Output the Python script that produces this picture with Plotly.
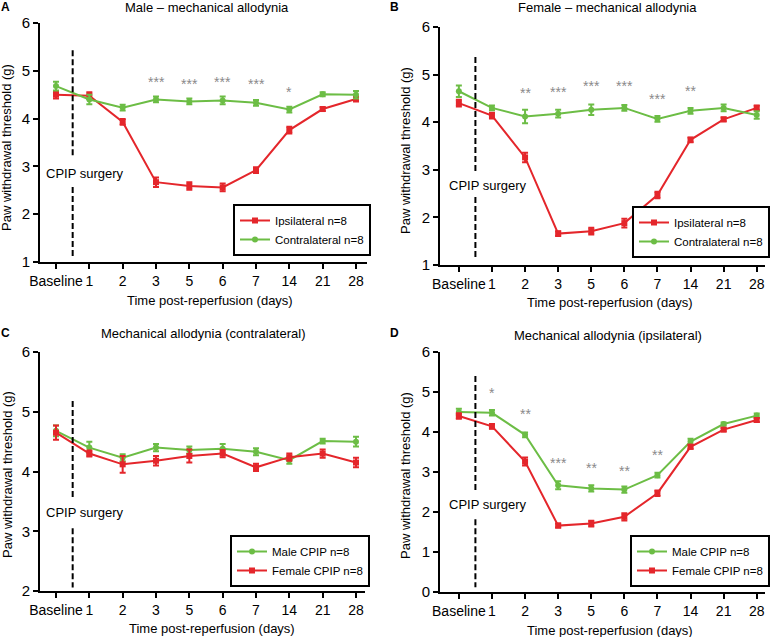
import plotly.graph_objects as go

# ---------------- data ----------------
days = ["Baseline", "1", "2", "3", "5", "6", "7", "14", "21", "28"]

male_ipsi = [4.50, 4.48, 3.93, 2.67, 2.59, 2.56, 2.92, 3.76, 4.20, 4.41]
male_ipsi_sem = [0.08, 0.07, 0.06, 0.10, 0.08, 0.08, 0.06, 0.07, 0.04, 0.05]
male_contra = [4.68, 4.40, 4.23, 4.40, 4.36, 4.38, 4.33, 4.19, 4.51, 4.50]
male_contra_sem = [0.09, 0.10, 0.06, 0.06, 0.06, 0.08, 0.06, 0.06, 0.04, 0.08]
female_ipsi = [4.40, 4.14, 3.26, 1.66, 1.71, 1.88, 2.47, 3.63, 4.06, 4.30]
female_ipsi_sem = [0.07, 0.06, 0.10, 0.05, 0.07, 0.09, 0.07, 0.05, 0.04, 0.05]
female_contra = [4.65, 4.30, 4.12, 4.18, 4.26, 4.30, 4.07, 4.24, 4.30, 4.15]
female_contra_sem = [0.12, 0.05, 0.14, 0.08, 0.11, 0.06, 0.06, 0.06, 0.07, 0.08]

sig_A_days = ["3", "5", "6", "7", "14"]
sig_A_text = ["***", "***", "***", "***", "*"]
sig_A_y = [4.83, 4.79, 4.83, 4.79, 4.62]

sig_B_days = ["2", "3", "5", "6", "7", "14"]
sig_B_text = ["**", "***", "***", "***", "***", "**"]
sig_B_y = [4.68, 4.70, 4.82, 4.82, 4.54, 4.72]

sig_D_days = ["1", "2", "3", "5", "6", "7"]
sig_D_text = ["*", "**", "***", "**", "**", "**"]
sig_D_y = [5.05, 4.53, 3.30, 3.18, 3.10, 3.49]

# ---------------- style ----------------
W, H = 777, 637
RED = "#e4262b"
GREEN = "#6cbd45"
FONT = "Liberation Sans, Arial, Helvetica, sans-serif"


def px(p):
    return p / W


def py(p):
    return 1 - p / H


fig = go.Figure()

panels = [
    dict(n="", label="A", title="Male – mechanical allodynia",
         xdom=(40, 367), ydom=(262, 23), xr=(-0.48, 9.33), yr=(1, 6),
         series=[("Ipsilateral n=8", male_ipsi, male_ipsi_sem, RED, "square"),
                 ("Contralateral n=8", male_contra, male_contra_sem, GREEN, "circle")],
         leg=(371, 256), ttl=(207, 8), lab=(5, 7), ytl=(7, 148), xtl=(210, 300),
         dash=[(5.43, 3.20), (2.57, 1.08)], cpip=2.86,
         sig=(sig_A_days, sig_A_text, sig_A_y)),
    dict(n="2", label="B", title="Female – mechanical allodynia",
         xdom=(440, 765), ydom=(265, 27), xr=(-0.57, 9.25), yr=(1, 6),
         series=[("Ipsilateral n=8", female_ipsi, female_ipsi_sem, RED, "square"),
                 ("Contralateral n=8", female_contra, female_contra_sem, GREEN, "circle")],
         leg=(770, 258), ttl=(607, 8), lab=(395, 7), ytl=(405, 150), xtl=(610, 302),
         dash=[(5.37, 2.95), (2.43, 1.15)], cpip=2.68,
         sig=(sig_B_days, sig_B_text, sig_B_y)),
    dict(n="3", label="C", title="Mechanical allodynia (contralateral)",
         xdom=(40, 365), ydom=(591, 352), xr=(-0.48, 9.27), yr=(2, 6),
         series=[("Male CPIP n=8", male_contra, male_contra_sem, GREEN, "circle"),
                 ("Female CPIP n=8", female_contra, female_contra_sem, RED, "square")],
         leg=(370, 587), ttl=(203, 333), lab=(5, 333), ytl=(7, 475), xtl=(212, 628),
         dash=[(5.18, 3.55), (3.05, 2.06)], cpip=3.32,
         sig=None),
    dict(n="4", label="D", title="Mechanical allodynia (ipsilateral)",
         xdom=(440, 765), ydom=(592, 352), xr=(-0.57, 9.25), yr=(0, 6),
         series=[("Male CPIP n=8", male_ipsi, male_ipsi_sem, GREEN, "circle"),
                 ("Female CPIP n=8", female_ipsi, female_ipsi_sem, RED, "square")],
         leg=(770, 587), ttl=(608, 335), lab=(395, 333), ytl=(405, 475), xtl=(610, 630),
         dash=[(5.40, 2.55), (1.82, 0.12)], cpip=2.20,
         sig=(sig_D_days, sig_D_text, sig_D_y)),
]

annotations = []
shapes = []
layout = {}


def paper_text(text, x, y, size=13, angle=0, color="black"):
    return dict(text=text, x=px(x), y=py(y), xref="paper", yref="paper",
                xanchor="center", yanchor="middle", showarrow=False, textangle=angle,
                font=dict(family=FONT, size=size, color=color))


for p in panels:
    n = p["n"]
    xa, ya = "x" + n, "y" + n
    legname = "legend" + n
    for name, vals, sem, col, sym in p["series"]:
        fig.add_trace(go.Scatter(
            x=days, y=vals, name=name, mode="lines+markers",
            xaxis=xa, yaxis=ya, legend=legname,
            line=dict(color=col, width=2),
            marker=dict(color=col, symbol=sym, size=6),
            error_y=dict(type="data", array=sem, visible=True,
                         color=col, thickness=2, width=3),
        ))
    ymin, ymax = p["yr"]
    layout["xaxis" + n] = dict(
        domain=[px(p["xdom"][0]), px(p["xdom"][1])], anchor=ya,
        type="category", categoryorder="array", categoryarray=days,
        range=list(p["xr"]), showline=True, linecolor="black", linewidth=2,
        ticks="outside", ticklen=5, tickwidth=2, tickcolor="black",
        showgrid=False, zeroline=False, fixedrange=True,
        tickangle=0, automargin=False,
        tickfont=dict(family=FONT, size=14, color="black"))
    layout["yaxis" + n] = dict(
        domain=[py(p["ydom"][0]), py(p["ydom"][1])], anchor=xa,
        range=[ymin, ymax], tickmode="array",
        tickvals=list(range(ymin, ymax + 1)),
        showline=True, linecolor="black", linewidth=2,
        ticks="outside", ticklen=5, tickwidth=2, tickcolor="black",
        showgrid=False, zeroline=False, fixedrange=True, automargin=False,
        tickfont=dict(family=FONT, size=15, color="black"))
    layout[legname] = dict(
        x=px(p["leg"][0]), y=py(p["leg"][1]), xanchor="right", yanchor="bottom",
        xref="paper", yref="paper",
        bordercolor="black", borderwidth=2, bgcolor="white",
        font=dict(family=FONT, size=11.5, color="black"),
        itemwidth=30, tracegroupgap=0, traceorder="normal")

    # titles / labels
    annotations.append(paper_text(p["title"], *p["ttl"]))
    annotations.append(paper_text("<b>" + p["label"] + "</b>", *p["lab"], size=12))
    annotations.append(paper_text("Paw withdrawal threshold (g)", *p["ytl"], angle=-90))
    annotations.append(paper_text("Time post-reperfusion (days)", *p["xtl"]))
    # surgery marker
    for y0, y1 in p["dash"]:
        shapes.append(dict(type="line", xref=xa, yref=ya, x0=0.5, x1=0.5, y0=y0, y1=y1,
                           line=dict(color="black", width=2, dash="6px,3px")))
    annotations.append(dict(text="CPIP surgery", x=-0.36, y=p["cpip"], xref=xa, yref=ya,
                            xanchor="left", yanchor="middle", showarrow=False,
                            font=dict(family=FONT, size=13, color="black")))
    # significance marks
    if p["sig"]:
        for d, t, yv in zip(*p["sig"]):
            annotations.append(dict(text=t, x=days.index(d), y=yv, xref=xa, yref=ya,
                                    xanchor="center", yanchor="middle",
                                    showarrow=False, yshift=-3,
                                    font=dict(family=FONT, size=14, color="#8a8a8a")))

fig.update_layout(
    width=W, height=H, margin=dict(l=0, r=0, t=0, b=0, autoexpand=False),
    paper_bgcolor="white", plot_bgcolor="white",
    annotations=annotations, shapes=shapes, **layout,
)

fig.write_html("out.html", config={"displayModeBar": False},
               post_script="document.body.style.margin='0';document.body.style.padding='0';")
